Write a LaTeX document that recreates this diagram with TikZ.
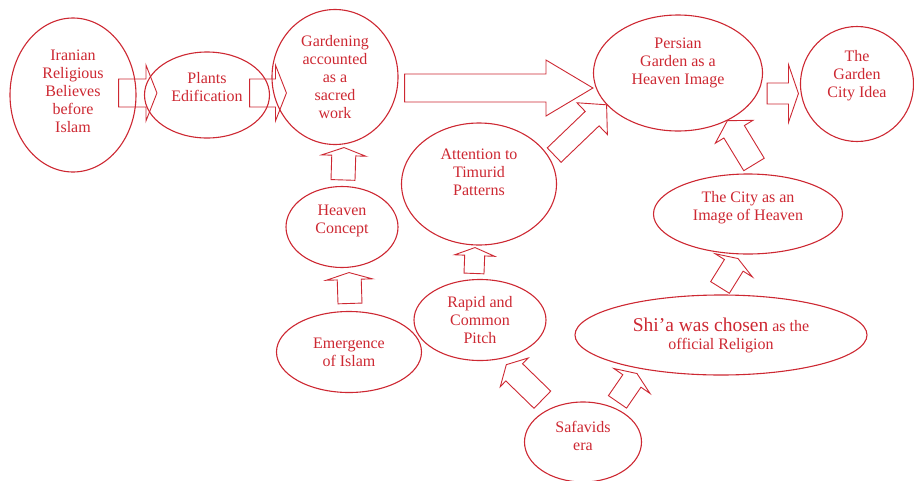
\documentclass[tikz,border=0pt]{standalone}
\usepackage{fontspec}
\setmainfont{Liberation Serif}
\usetikzlibrary{shapes.geometric,calc}

\definecolor{gardenred}{RGB}{205,40,50}

\tikzset{
  bubble/.style={ellipse, draw=gardenred, line width=1.1pt, text=gardenred,
    align=center, inner sep=0pt, font=\fontsize{16pt}{18pt}\selectfont},
  blockarr/.style={draw=gardenred, line width=0.9pt, line join=miter},
}

% outlined block arrow: tail, tip, half shaft, half head, head length
\newcommand{\blockarrow}[5]{%
  \coordinate (ba-h) at ($#2!#5!#1$);
  \draw[blockarr] ($#1!#3!90:#2$) -- ($(ba-h)!#3!90:#2$) -- ($(ba-h)!#4!90:#2$)
    -- #2 -- ($(ba-h)!#4!-90:#2$) -- ($(ba-h)!#3!-90:#2$) -- ($#1!#3!-90:#2$) -- cycle;
}
% empty last line, pushes the text up
\newcommand{\lift}[1]{\\[#1]\mbox{}}

\begin{document}
\begin{tikzpicture}[x=1pt,y=-1pt]
    \useasboundingbox (0,0) rectangle (914,480);
    % top row
    \node[bubble, minimum width=126pt, minimum height=154pt] (iran) at (73,95)
        {Iranian\\Religious\\Believes\\before\\Islam\lift{-10pt}};
    \node[bubble, minimum width=125pt, minimum height=86pt] (plants) at (207,95)
        {Plants\\Edification\lift{-2pt}};
    \node[bubble, minimum width=126pt, minimum height=135pt] (garden) at (335,77)
        {Gardening\\accounted\\as a\\sacred\\work};
    \node[bubble, minimum width=169pt, minimum height=116pt] (persian) at (678,73)
        {Persian\\Garden as a\\Heaven Image\lift{5pt}};
    \node[bubble, minimum width=113pt, minimum height=115pt] (gcity) at (857,84)
        {The\\Garden\\City Idea\lift{1.5pt}};
    % left column
    \node[bubble, minimum width=112pt, minimum height=81pt] (heaven) at (342,227)
        {Heaven\\Concept\lift{-2.5pt}};
    \node[bubble, minimum width=145pt, minimum height=81pt] (emerge) at (349,352)
        {Emergence\\of Islam};
    % middle column
    \node[bubble, minimum width=155pt, minimum height=122pt] (attn) at (479,184)
        {Attention to\\Timurid\\Patterns\lift{6pt}};
    \node[bubble, minimum width=132pt, minimum height=81pt] (rapid) at (480,320)
        {Rapid and\\Common\\Pitch};
    \node[bubble, minimum width=117pt, minimum height=80pt] (safav) at (583,442)
        {Safavids\\era\lift{-6pt}};
    % right column
    \node[bubble, minimum width=292pt, minimum height=80pt] (shia) at (721,335)
        {{\fontsize{19.5pt}{20pt}\selectfont Shi’a was chosen} as the\\official Religion};
    \node[bubble, minimum width=189pt, minimum height=80pt] (city) at (748,214)
        {The City as an\\Image of Heaven\lift{-2.5pt}};

    % arrow ends
    \coordinate (a1s) at ($(iran.east)+(-18,-2)$);
    \coordinate (a1e) at ($(plants.west)+(13,-2)$);
    \coordinate (a2s) at ($(plants.east)+(-20.5,-2)$);
    \coordinate (a2e) at ($(garden.west)+(15,16)$);
    \coordinate (a3s) at ($(garden.east)+(6,11)$);
    \coordinate (a3e) at ($(persian.west)+(0,15)$);
    \coordinate (a4s) at ($(attn.21)+(5,-2)$);
    \coordinate (a4e) at (persian.204);
    \coordinate (a5s) at ($(city.north)+(6,-9)$);
    \coordinate (a5e) at (persian.-44);
    \coordinate (a6s) at ($(heaven.north)+(1,-6)$);
    \coordinate (a6e) at ($(garden.south)+(9,2.5)$);
    \coordinate (a7s) at ($(emerge.north)+(1,-7.5)$);
    \coordinate (a7e) at ($(heaven.south)+(7,4.5)$);
    \coordinate (a8s) at ($(rapid.north)+(-6,-5.5)$);
    \coordinate (a8e) at ($(attn.south)+(-4,2)$);
    \coordinate (a9s) at ($(safav.134)+(-8,-8.5)$);
    \coordinate (a9e) at ($(rapid.300)+(4,6)$);
    \coordinate (a10s) at ($(safav.50)+(5,-5)$);
    \coordinate (a10e) at ($(shia.south)+(-84,-2)$);
    \coordinate (a11s) at ($(shia.north)+(-1,-7)$);
    \coordinate (a11e) at ($(city.south)+(-10,4)$);
    \coordinate (a12s) at ($(persian.east)+(4,20.5)$);
    \coordinate (a12e) at ($(gcity.west)+(-1.5,9.5)$);

    \foreach \s/\e/\sw/\hw/\hl in {a1s/a1e/14pt/28pt/11pt, a2s/a2e/14pt/28pt/11pt,
        a3s/a3e/14pt/28pt/47pt, a4s/a4e/10pt/22pt/20pt, a5s/a5e/12pt/22pt/13pt,
        a6s/a6e/12pt/22pt/8pt, a7s/a7e/12pt/23pt/7pt, a8s/a8e/10pt/20pt/8pt,
        a9s/a9e/12pt/20pt/11pt, a10s/a10e/11pt/22pt/9pt, a11s/a11e/11pt/22pt/8pt,
        a12s/a12e/10.5pt/29pt/10pt} {
    \blockarrow{(\s)}{(\e)}{\sw}{\hw}{\hl}
    }
\end{tikzpicture}
\end{document}
